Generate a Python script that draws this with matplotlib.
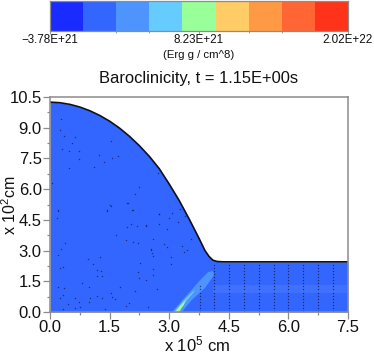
import numpy as np
import matplotlib
matplotlib.use("Agg")
import matplotlib.pyplot as plt
from matplotlib.colors import ListedColormap

plt.rcParams['font.family'] = ['Liberation Sans', 'DejaVu Sans']
plt.rcParams['mathtext.default'] = 'regular'

# Data
cbar_colors = ['#1a2bff', '#3366ff', '#4d94ff', '#66ccff', '#99ff99',
               '#ffcc66', '#ff9944', '#ff6633', '#ff3319']
cbar_labels = ['\u22123.78E+21', '8.23E+21', '2.02E+22']
cbar_ticks = [0, 4.5, 9]

surf_x = [0.0, 0.25, 0.5, 0.75, 1.0, 1.25, 1.5, 1.75, 2.0, 2.25, 2.5, 2.75, 3.0, 3.25, 3.5, 3.75,
          3.9, 4.0, 4.1, 4.2, 4.35, 5.0, 6.0, 7.5]
surf_y = [10.25, 10.22, 10.14, 10.01, 9.83, 9.6, 9.32, 8.98, 8.58, 8.12, 7.6, 7.0, 6.25, 5.45, 4.55, 3.6,
          3.0, 2.72, 2.53, 2.47, 2.45, 2.45, 2.45, 2.45]

band_x = [4.1, 7.5, 7.5, 4.1]
band_y = [0.95, 0.95, 1.3, 1.3]

outer_x = [3.07, 3.40, 3.78, 3.98, 4.10, 4.13, 3.90, 3.57, 3.32]
outer_y = [0.0, 0.73, 1.56, 1.95, 2.0, 1.81, 1.17, 0.59, 0.0]
mid_x = [3.12, 3.42, 3.65, 3.6, 3.42, 3.23]
mid_y = [0.0, 0.68, 1.1, 0.92, 0.52, 0.0]
green_x = [3.15, 3.27, 3.42, 3.36, 3.24]
green_y = [0.0, 0.3, 0.58, 0.32, 0.0]
yellow_x = [3.17, 3.22, 3.29, 3.26]
yellow_y = [0.0, 0.13, 0.13, 0.0]

dots_x = [.2, .18, .28, .2, .38, .33, .25, .2, .35, .33, .25, .63, .73, .45, .63, .33, .8, .98, 1.0, .98, .75,
          1.18, 1.31, 1.18, 1.28, 1.18, 1.31, 1.08, 1.26, .96, 1.51, 1.43, 1.94, 2.09, 1.94, 2.04, 2.19, 2.42,
          2.74, 1.66, 1.91, 2.09, 2.21, 2.54, 2.57, 2.27, 2.21, 2.24, 2.42, 2.59, 2.59, 1.54, 1.76, 1.56, 1.64,
          1.91, 1.99, 1.38, 2.47, 2.69, 2.14, .28, .24, .35, .63, .55, .3, .48, .73, .48, .73, 1.23, 1.54, 1.36,
          1.56, 1.71, 1.11, .05, .2, 1.43, 1.54, 2.72, 2.24, 2.14, 1.96, 2.06, 3.27, 2.74, 3.07, 3.0, 3.4, 3.22,
          2.74, 2.42, 2.94, 3.55, 3.73, 2.59, 2.87, 2.94, 3.32, 3.45, 3.37, 2.54, 2.59, 3.05, 3.05]
dots_y = [4.98, 4.59, 3.08, 2.78, 3.37, 2.2, 2.15, 1.22, 1.17, .83, .68, .68, .49, .39, .2, .15, 1.42, 1.22, .68, .49, .24,
          .78, .68, 2.05, 2.0, 1.76, 1.76, 2.34, 2.69, 2.59, 5.23, 4.98, 5.32, 4.98, 4.15, 4.3, 4.2, 4.25,
          4.79, 3.76, 3.52, 3.42, 3.37, 3.08, 2.88, 2.39, 1.95, 1.66, 1.56, 2.1, 1.81, .93, 1.22, .73, .63,
          .29, .44, .15, .24, 1.12, 1.03, 9.43, 8.9, 8.6, 8.55, 8.25, 7.96, 7.86, 7.86, 7.03, 7.47, 7.67, 8.35, 7.33,
          7.52, 7.62, 7.08, 6.3, 4.93, 4.93, 5.18, 6.79, 6.1, 5.76, 5.32, 4.98, 5.03, 4.79, 4.83, 4.59, 4.69, 4.4,
          4.3, 4.2, 4.05, 3.57, 3.61, 3.57, 3.32, 3.17, 3.22, 3.03, 2.93, 3.03, 2.73, 2.69, 2.34]

column_x = [4.13, 4.5, 4.88, 5.26, 5.64, 6.0, 6.37, 6.75, 7.12]
column_y = [0.05, 0.2, 0.35, 0.5, 0.65, 0.8, 0.95, 1.1, 1.25, 1.4, 1.55, 1.7, 1.85, 2.0, 2.15, 2.3]
short_column_x = [3.78]
short_column_y = [0.05, 0.2, 0.35, 0.5, 0.65, 0.8, 0.95, 1.1, 1.25]

x_ticks = [0.0, 1.5, 3.0, 4.5, 6.0, 7.5]
x_minor = [0.75, 2.25, 3.75, 5.25, 6.75]
y_ticks = [0.0, 1.5, 3.0, 4.5, 6.0, 7.5, 9.0, 10.5]
y_minor = [0.75, 2.25, 3.75, 5.25, 6.75, 8.25, 9.75]

W, H = 374, 353
fig = plt.figure(figsize=(W / 100, H / 100), dpi=100)
GRAY = '#8c8c8c'
TXT = '#111111'
DOT = '#15204f'

# Colour bar
cax = fig.add_axes([50 / W, 1 - 30.5 / H, 298 / W, 29.5 / H])
cax.pcolormesh(np.arange(len(cbar_colors) + 1), [0, 1],
               np.arange(len(cbar_colors)).reshape(1, -1),
               cmap=ListedColormap(cbar_colors), shading='flat')
cax.set_xlim(0, len(cbar_colors))
cax.set_ylim(0, 1)
cax.set_yticks([])
cax.set_xticks(cbar_ticks)
cax.set_xticklabels(cbar_labels, fontsize=8.4, color=TXT)
cax.set_xticks([2.0, 3.0, 6.0, 7.0], minor=True)
cax.tick_params(axis='x', which='major', length=2, width=0.6, color=GRAY, pad=0.6)
cax.tick_params(axis='x', which='minor', length=1.2, width=0.6, color=GRAY)
for s in cax.spines.values():
    s.set_color(GRAY)
    s.set_linewidth(0.9)
fig.text(198.5 / W, 1 - 55 / H, '(Erg g / cm^8)', fontsize=8.2, color=TXT, ha='center', va='center')

# Main axes
ax = fig.add_axes([50 / W, 1 - 312 / H, 298 / W, 215 / H])
ax.set_xlim(0, 7.5)
ax.set_ylim(0, 10.5)
ax.fill_between(surf_x, 0, surf_y, color='#3366ff', lw=0, zorder=1)
ax.fill(band_x, band_y, color='#3f70ff', lw=0, zorder=1.2)
ax.fill(outer_x, outer_y, color='#4d94ff', lw=0, zorder=2)
ax.fill(mid_x, mid_y, color='#66ccff', lw=0, zorder=2.1)
ax.fill(green_x, green_y, color='#99ff99', lw=0, zorder=2.2)
ax.fill(yellow_x, yellow_y, color='#ffcc66', lw=0, zorder=2.3)
ax.plot(surf_x, surf_y, color='#101018', lw=1.2, zorder=4)

ax.scatter(dots_x, dots_y, s=1.1, color=DOT, alpha=0.75, linewidths=0, zorder=3)
for cx in column_x:
    ax.scatter([cx] * len(column_y), column_y, s=1.0, color=DOT, alpha=0.8, linewidths=0, zorder=3)
for cx in short_column_x:
    ax.scatter([cx] * len(short_column_y), short_column_y, s=1.0, color=DOT, alpha=0.8, linewidths=0, zorder=3)

ax.set_xticks(x_ticks)
ax.set_xticklabels([f'{v:.1f}' for v in x_ticks], fontsize=12, color=TXT)
ax.set_yticks(y_ticks)
ax.set_yticklabels([f'{v:.1f}' for v in y_ticks], fontsize=12, color=TXT)
ax.set_xticks(x_minor, minor=True)
ax.set_yticks(y_minor, minor=True)
ax.tick_params(axis='both', which='major', length=5, width=0.9, color=GRAY, pad=1)
ax.tick_params(axis='both', which='minor', length=2.5, width=0.9, color=GRAY)
for s in ax.spines.values():
    s.set_color(GRAY)
    s.set_linewidth(1.1)
    s.set_zorder(5)

fig.text(199 / W, 1 - 79 / H, 'Baroclinicity, t = 1.15E+00s', fontsize=11.9, color=TXT, ha='center', va='center')
fig.text(197 / W, 1 - 344 / H, 'x 10$^5$ cm', fontsize=12, color=TXT, ha='center', va='center')
fig.text(10 / W, 1 - 205 / H, 'x 10$^2$cm', fontsize=11.5, color=TXT, ha='center', va='center', rotation=90)

fig.savefig('out.png', dpi=100)
